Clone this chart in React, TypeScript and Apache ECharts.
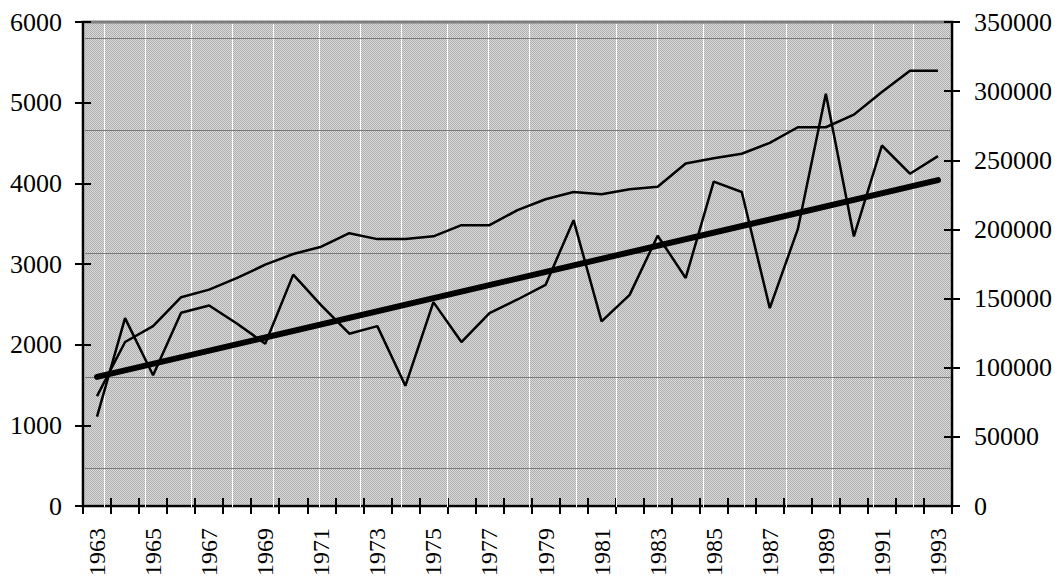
import React, { useEffect, useRef } from "react";
import * as echarts from "echarts";

const years = [
  "1963", "1964", "1965", "1966", "1967", "1968", "1969", "1970", "1971", "1972",
  "1973", "1974", "1975", "1976", "1977", "1978", "1979", "1980", "1981", "1982",
  "1983", "1984", "1985", "1986", "1987", "1988", "1989", "1990", "1991", "1992", "1993",
];

// jagged series (left axis)
const annualValues = [
  1107, 2329, 1621, 2395, 2486, 2259, 2012, 2868, 2486, 2136,
  2230, 1490, 2527, 2033, 2391, 2560, 2741, 3543, 2288, 2617,
  3350, 2827, 4021, 3893, 2453, 3432, 5111, 3342, 4469, 4119, 4337,
];

// smooth series (right axis)
const cumulativeValues = [
  79500, 118600, 130100, 151000, 156500, 164900, 174500, 182200, 187500, 197300,
  193000, 193000, 195000, 203100, 203100, 213900, 221800, 227100, 225400, 229000,
  230900, 247700, 251400, 254700, 262600, 273900, 273900, 283000, 299400, 314700, 314700,
];

// linear trend of the jagged series (end points)
const trendStart = 1600;
const trendEnd = 4040;

const leftAxis = { min: 0, max: 6000, interval: 1000 };
const rightAxis = { min: 0, max: 350000, interval: 50000 };

const FONT = "Liberation Serif";

function makePattern(): any {
  const c = document.createElement("canvas");
  c.width = 2;
  c.height = 2;
  const ctx = c.getContext("2d");
  if (!ctx) return "#c2c2c2";
  ctx.fillStyle = "#d8d8d8";
  ctx.fillRect(0, 0, 2, 2);
  ctx.fillStyle = "#b0b0b0";
  ctx.fillRect(0, 0, 1, 1);
  ctx.fillRect(1, 1, 1, 1);
  return { image: c, repeat: "repeat" };
}

export default function App() {
  const ref = useRef<HTMLDivElement>(null);

  useEffect(() => {
    document.body.style.margin = "0";
    if (!ref.current) return;
    const chart = echarts.init(ref.current, null, { renderer: "svg" });

    const black = "#000000";
    const tickStyle = { color: black, width: 2 };
    const plain = (v: number) => String(v);

    const whiteX = [104, 145, 191, 232, 273, 319, 360, 401, 447, 488, 529, 576, 616, 657, 703, 744, 786, 832, 873, 913];
    const grayY = [38, 130, 253, 377, 468];
    const deco: any[] = [];
    whiteX.forEach((x) =>
      deco.push({
        type: "line",
        z: 1,
        silent: true,
        shape: { x1: x + 0.5, y1: 24, x2: x + 0.5, y2: 507 },
        style: { stroke: "#ffffff", lineWidth: 1 },
      })
    );
    grayY.forEach((y) =>
      deco.push({
        type: "line",
        z: 1,
        silent: true,
        shape: { x1: 85, y1: y + 0.5, x2: 951, y2: y + 0.5 },
        style: { stroke: "#7a7a7a", lineWidth: 1 },
      })
    );

    const option: any = {
      animation: false,
      grid: {
        left: 83,
        right: 103,
        top: 22,
        bottom: 71,
        show: true,
        backgroundColor: makePattern(),
        borderColor: "#7d7d7d",
        borderWidth: 3,
      },
      graphic: deco,
      xAxis: [
        {
          type: "category",
          data: years,
          position: "bottom",
          boundaryGap: true,
          axisLine: { show: true, lineStyle: { color: black, width: 2 } },
          axisTick: { show: true, interval: 0, length: 8, inside: false, lineStyle: tickStyle },
          axisLabel: {
            interval: 1,
            rotate: 90,
            margin: 22,
            fontSize: 24,
            fontFamily: FONT,
            color: black,
          },
          splitLine: { show: false },
        },
        {
          type: "category",
          data: years,
          position: "bottom",
          boundaryGap: true,
          axisLine: { show: false },
          axisTick: { show: true, interval: 0, length: 8, inside: true, lineStyle: tickStyle },
          axisLabel: { show: false },
          splitLine: { show: false },
        },
      ],
      yAxis: [
        {
          type: "value",
          position: "left",
          ...leftAxis,
          axisLine: { show: true, lineStyle: { color: black, width: 2 } },
          axisTick: { show: true, length: 8, inside: false, lineStyle: tickStyle },
          axisLabel: { margin: 21, fontSize: 26, fontFamily: FONT, color: black, formatter: plain },
          splitLine: { show: false },
        },
        {
          type: "value",
          position: "left",
          ...leftAxis,
          axisLine: { show: false },
          axisTick: { show: true, length: 8, inside: true, lineStyle: tickStyle },
          axisLabel: { show: false },
          splitLine: { show: false },
        },
        {
          type: "value",
          position: "right",
          ...rightAxis,
          axisLine: { show: true, lineStyle: { color: black, width: 2 } },
          axisTick: { show: true, length: 8, inside: false, lineStyle: tickStyle },
          axisLabel: { margin: 22, fontSize: 26, fontFamily: FONT, color: black, formatter: plain },
          splitLine: { show: false },
        },
        {
          type: "value",
          position: "right",
          ...rightAxis,
          axisLine: { show: false },
          axisTick: { show: true, length: 8, inside: true, lineStyle: tickStyle },
          axisLabel: { show: false },
          splitLine: { show: false },
        },
      ],
      series: [
        {
          name: "cumulative",
          type: "line",
          xAxisIndex: 0,
          yAxisIndex: 2,
          data: cumulativeValues,
          showSymbol: false,
          symbol: "none",
          lineStyle: { color: black, width: 2.5 },
          z: 3,
        },
        {
          name: "annual",
          type: "line",
          xAxisIndex: 0,
          yAxisIndex: 0,
          data: annualValues,
          showSymbol: false,
          symbol: "none",
          lineStyle: { color: black, width: 2.5 },
          z: 3,
        },
        {
          name: "trend",
          type: "line",
          xAxisIndex: 0,
          yAxisIndex: 0,
          data: [
            [years[0], trendStart],
            [years[years.length - 1], trendEnd],
          ],
          showSymbol: false,
          symbol: "none",
          lineStyle: { color: black, width: 6, cap: "round" },
          z: 4,
        },
      ],
    };

    chart.setOption(option);
    return () => chart.dispose();
  }, []);

  return <div ref={ref} style={{ width: 1055, height: 579 }} />;
}
